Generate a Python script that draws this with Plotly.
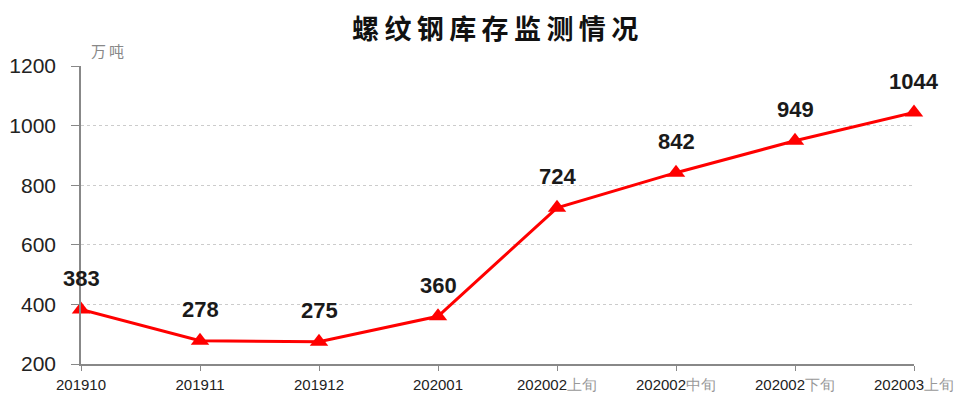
import plotly.graph_objects as go

categories = ["201910", "201911", "201912", "202001", "202002上旬", "202002中旬", "202002下旬", "202003上旬"]
tick_labels = ["201910", "201911", "201912", "202001",
               "202002<span style='color:#999999'>上旬</span>",
               "202002<span style='color:#999999'>中旬</span>",
               "202002<span style='color:#999999'>下旬</span>",
               "202003<span style='color:#999999'>上旬</span>"]
values = [383, 278, 275, 360, 724, 842, 949, 1044]
y_ticks = [200, 400, 600, 800, 1000, 1200]
title_text = "螺纹钢库存监测情况"

fig = go.Figure()
fig.add_trace(go.Scatter(
    x=categories, y=values, mode="lines+markers",
    line=dict(color="#ff0000", width=3),
    marker=dict(symbol="triangle-up", size=16, color="#ff0000"),
    cliponaxis=False, showlegend=False,
))
for i, v in enumerate(values):
    fig.add_annotation(x=i, y=v, text="<b>%d</b>" % v, showarrow=False,
                       yshift=31, yanchor="middle",
                       font=dict(family="Liberation Sans, Arial", size=22, color="#1a1a1a"))

fig.update_layout(
    width=970, height=417,
    paper_bgcolor="white", plot_bgcolor="white",
    margin=dict(l=73, r=64, t=58, b=61, autoexpand=False),
    font=dict(family="Liberation Sans, Arial"),
)
# chart title
fig.add_annotation(text="<b>" + "\u2009".join(title_text) + "</b>", xref="paper", yref="paper",
                   x=0.497, y=1.0, yshift=39, xanchor="center", yanchor="middle",
                   showarrow=False,
                   font=dict(family="Noto Sans CJK SC", size=27, color="#111111"))
fig.update_xaxes(
    type="category", range=[0, 7], tickvals=categories, ticktext=tick_labels,
    showgrid=False, showline=True, linecolor="#888888", linewidth=1.5,
    ticks="outside", ticklen=5, tickcolor="#888888", automargin=False,
    ticklabelstandoff=1,
    tickfont=dict(size=15, color="#222222"),
)
fig.update_yaxes(
    range=[200, 1200], tickvals=y_ticks,
    showgrid=True, gridcolor="#cccccc", griddash="dot", gridwidth=1,
    showline=True, linecolor="#888888", linewidth=1.5, automargin=False,
    ticks="outside", ticklen=8, tickcolor="#888888", ticklabelstandoff=11,
    tickfont=dict(size=21, color="#222222"), zeroline=False,
)
fig.add_annotation(text="万\u2009吨", xref="paper", yref="paper", x=0.0, y=1.0, yshift=16,
                   xshift=8, xanchor="left", yanchor="middle", showarrow=False,
                   font=dict(family="Noto Sans CJK SC", size=15, color="#888888"))
fig.write_html("out.html")
